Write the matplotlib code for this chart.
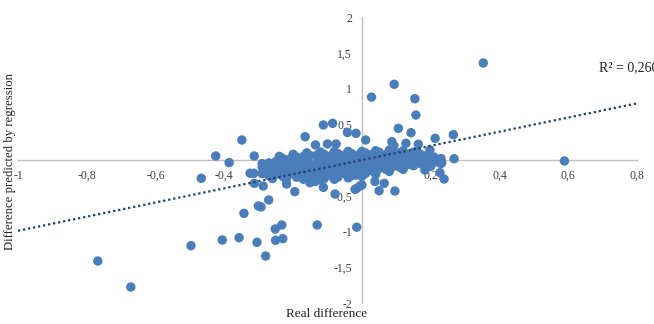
import matplotlib
matplotlib.use("Agg")
import matplotlib.pyplot as plt
import numpy as np

# ---- data ----
outlier_x = [0.353, 0.094, 0.028, 0.154, 0.157, 0.106, 0.143, 0.266, 0.213, 0.589,
             0.268, 0.239, 0.227, 0.183, 0.217, 0.232, 0.198, 0.128, 0.164, 0.087,
             0.093, 0.011, 0.038, 0.065, 0.050, 0.096, -0.015, -0.006, -0.017, -0.015,
             -0.768, -0.672, -0.497, -0.406, -0.357, -0.305, -0.280, -0.251, -0.230, -0.252,
             -0.233, -0.130, -0.343, -0.301, -0.293, -0.271, -0.195, -0.467, -0.425, -0.386,
             -0.313, -0.325, -0.314, -0.313, -0.287, -0.219, -0.151, -0.136, -0.112, -0.078,
             -0.349, -0.112, -0.085, -0.165, -0.135, -0.100, -0.075, -0.042, -0.017, 0.000,
             -0.020]
outlier_y = [1.357, 1.059, 0.880, 0.857, 0.629, 0.443, 0.382, 0.354, 0.303, -0.014,
             0.018, -0.266, -0.177, -0.140, -0.024, -0.037, 0.140, 0.233, 0.220, 0.256,
             0.200, 0.280, -0.300, -0.326, -0.430, -0.434, -0.940, -0.364, -0.210, -0.396,
             -1.413, -1.776, -1.198, -1.119, -1.087, -1.151, -1.343, -1.123, -1.100, -0.965,
             -0.909, -0.909, -0.746, -0.643, -0.657, -0.559, -0.443, -0.256, 0.056, -0.037,
             0.056, -0.186, -0.186, -0.326, -0.364, -0.336, -0.317, -0.300, -0.383, -0.476,
             0.280, 0.490, 0.513, 0.326, 0.210, 0.224, 0.224, 0.385, 0.373, -0.350,
             -0.410]

cluster_x = [-0.29, -0.29, -0.29, -0.27, -0.27, -0.27, -0.25, -0.25, -0.25,
             -0.23, -0.23, -0.23, -0.23, -0.21, -0.21, -0.21,
             -0.19, -0.19, -0.19, -0.19, -0.17, -0.17, -0.17, -0.17,
             -0.15, -0.15, -0.15, -0.15, -0.13, -0.13, -0.13, -0.13,
             -0.11, -0.11, -0.11, -0.11, -0.11, -0.09, -0.09, -0.09, -0.09,
             -0.07, -0.07, -0.07, -0.07, -0.07, -0.05, -0.05, -0.05, -0.05,
             -0.03, -0.03, -0.03, -0.03, -0.03, -0.01, -0.01, -0.01, -0.01,
             0.01, 0.01, 0.01, 0.01, 0.01, 0.03, 0.03, 0.03, 0.03,
             0.05, 0.05, 0.05, 0.05, 0.07, 0.07, 0.07, 0.07,
             0.09, 0.09, 0.09, 0.09, 0.11, 0.11, 0.11, 0.11,
             0.13, 0.13, 0.13, 0.15, 0.15, 0.15, 0.15,
             0.17, 0.17, 0.17, 0.19, 0.19, 0.19, 0.21, 0.21, 0.23, 0.23,
             -0.24, -0.20, -0.16, -0.12, -0.08, -0.04, 0.00, 0.04, 0.08, 0.12, 0.16,
             -0.26, -0.22, -0.17, -0.12, -0.08, -0.04, 0.00, 0.04, 0.08, 0.12, 0.20,
             -0.28, -0.18, -0.06, 0.06, 0.18]
cluster_y = [-0.19, -0.10, -0.05, -0.22, -0.14, -0.04, -0.20, -0.11, -0.02,
             -0.23, -0.15, -0.06, 0.02, -0.19, -0.09, 0.01,
             -0.24, -0.16, -0.07, 0.04, -0.20, -0.11, -0.02, 0.05,
             -0.25, -0.15, -0.06, 0.06, -0.21, -0.12, -0.03, 0.07,
             -0.26, -0.17, -0.08, 0.02, 0.08, -0.22, -0.13, -0.04, 0.06,
             -0.24, -0.15, -0.07, 0.03, 0.09, -0.19, -0.10, 0.00, 0.07,
             -0.22, -0.13, -0.05, 0.04, 0.09, -0.17, -0.08, 0.01, 0.07,
             -0.19, -0.11, -0.03, 0.05, 0.10, -0.15, -0.06, 0.03, 0.08,
             -0.12, -0.04, 0.05, 0.11, -0.13, -0.07, 0.01, 0.08,
             -0.09, -0.02, 0.05, 0.11, -0.10, -0.03, 0.04, 0.10,
             -0.07, 0.00, 0.07, -0.08, -0.01, 0.06, 0.11,
             -0.05, 0.02, 0.08, -0.06, 0.01, 0.07, -0.03, 0.04, -0.05, 0.02,
             0.05, 0.08, 0.10, 0.11, 0.12, 0.12, 0.12, 0.13, 0.14, 0.13, 0.12,
             -0.26, -0.27, -0.27, -0.28, -0.27, -0.25, -0.23, -0.20, -0.16, -0.13, -0.09,
             -0.12, -0.04, -0.18, -0.09, -0.02]

trend_slope = 0.99
trend_intercept = 0.0
r2_label = "R² = 0,2606"

x_ticks = [-1, -0.8, -0.6, -0.4, -0.2, 0, 0.2, 0.4, 0.6, 0.8]
x_tick_labels = ["-1", "-0,8", "-0,6", "-0,4", "-0,2", "0", "0,2", "0,4", "0,6", "0,8"]
y_ticks = [-2, -1.5, -1, -0.5, 0, 0.5, 1, 1.5, 2]
y_tick_labels = ["-2", "-1,5", "-1", "-0,5", "0", "0,5", "1", "1,5", "2"]

x_label = "Real difference"
y_label = "Difference predicted by regression"

# ---- figure ----
plt.rcParams['font.family'] = ['Liberation Serif', 'DejaVu Serif']
fig = plt.figure(figsize=(6.54, 3.24), dpi=100)
ax = fig.add_axes([18/654, 1 - 303/324, (637-18)/654, (303-17)/324])
ax.set_xlim(-1, 0.8)
ax.set_ylim(-2, 2)

point_color = "#4A7EBB"
ax.scatter(outlier_x + cluster_x, outlier_y + cluster_y, s=46, color=point_color,
           edgecolors='none', zorder=2)

tx = np.array([-1.0, 0.8])
ax.plot(tx, trend_slope * tx + trend_intercept, color="#203C6E", lw=1.6,
        linestyle=(0, (1, 1.3)), zorder=3)

for side in ['top', 'right']:
    ax.spines[side].set_visible(False)
for side in ['left', 'bottom']:
    ax.spines[side].set_position('zero')
    ax.spines[side].set_color('#BFBFBF')
    ax.spines[side].set_linewidth(1.0)
    ax.spines[side].set_zorder(1)

ax.set_xticks(x_ticks)
ax.set_xticklabels(x_tick_labels)
ax.set_yticks(y_ticks)
ax.set_yticklabels(y_tick_labels)
ax.tick_params(axis='both', length=0, labelsize=8.5, labelcolor='#404040')
ax.tick_params(axis='x', pad=7)
ax.tick_params(axis='y', pad=7)
for lab in ax.get_xticklabels() + ax.get_yticklabels():
    lab.set_zorder(5)
ax.patch.set_visible(False)

fig.text(327/654, 1 - 314/324, x_label, ha='center', va='center', fontsize=9.5,
         color='#222222')
fig.text(10/654, 1 - 161/324, y_label, ha='center', va='center', rotation=90,
         fontsize=9.2, color='#222222')
fig.text(599/654, 1 - 68/324, r2_label, ha='left', va='center', fontsize=10,
         color='#222222')

fig.savefig("out.png", dpi=100)
